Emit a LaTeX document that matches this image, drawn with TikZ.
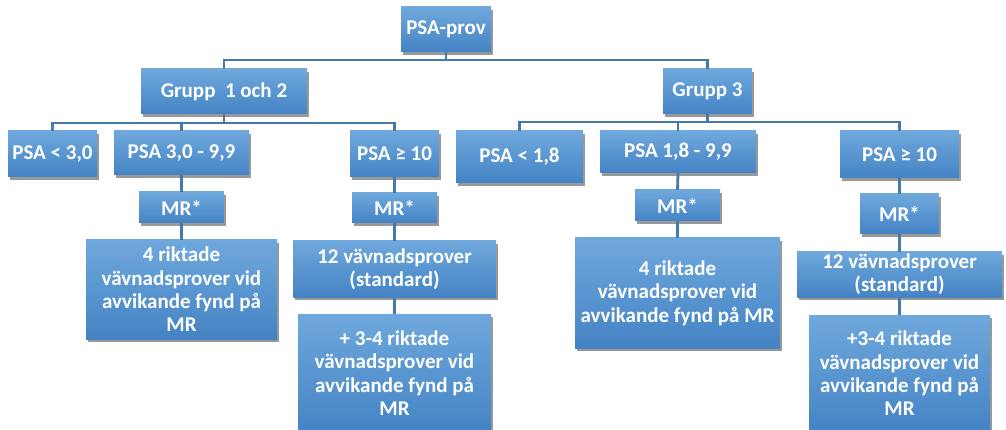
\documentclass[tikz,border=0pt]{standalone}
\usepackage{fontspec}
\setmainfont{Carlito}
\usetikzlibrary{shadows}
\definecolor{boxtop}{HTML}{6FA8DC}
\definecolor{boxbot}{HTML}{4483C4}
\definecolor{linec}{HTML}{4679AC}
\begin{document}
\begin{tikzpicture}[x=1pt,y=-1pt,
  box/.style={rectangle, top color=boxtop, bottom color=boxbot, draw=none,
    text=white, font=\fontsize{21}{23.3}\selectfont\bfseries, align=center,
    inner sep=0pt,
    drop shadow={shadow xshift=2pt, shadow yshift=-3pt, opacity=0.4, fill=black}},
  conn/.style={draw=linec, line width=2.8pt}]
\clip (0,0) rectangle (1006,430);
% level 0/1
\node[box, minimum width=90pt, minimum height=45pt] (prov) at (446,29.5) {PSA-prov};
\node[box, minimum width=166pt, minimum height=45pt] (g12) at (224,91.5) {Grupp\ \ 1 och 2};
\node[box, minimum width=89pt, minimum height=45pt] (g3) at (707.5,91.5) {Grupp 3};
% level 2
\node[box, minimum width=89pt, minimum height=46pt] (a1) at (52.5,154) {PSA < 3,0};
\node[box, minimum width=135pt, minimum height=44pt] (a2) at (181.5,153) {PSA 3,0 - 9,9};
\node[box, minimum width=89pt, minimum height=46pt] (a3) at (394.5,154) {PSA ≥ 10};
\node[box, minimum width=127pt, minimum height=52pt] (b1) at (519.5,157) {PSA < 1,8};
\node[box, minimum width=156pt, minimum height=42pt] (b2) at (678,152) {PSA 1,8 - 9,9};
\node[box, minimum width=119pt, minimum height=47pt] (b3) at (899.5,154.5) {PSA ≥ 10};
% MR
\node[box, minimum width=85pt, minimum height=31pt] (mra2) at (181.5,207.5) {MR*};
\node[box, minimum width=85pt, minimum height=30pt] (mra3) at (394.5,208) {MR*};
\node[box, minimum width=85pt, minimum height=31pt] (mrb2) at (677.5,205.5) {MR*};
\node[box, minimum width=79pt, minimum height=40pt] (mrb3) at (899.5,214) {MR*};
% lower
\node[box, minimum width=191pt, minimum height=99pt] (ra2) at (181.5,289.5) {4 riktade\\vävnadsprover vid\\avvikande fynd på\\MR};
\node[box, minimum width=203pt, minimum height=56pt] (sa3) at (394.5,269) {12 vävnadsprover\\(standard)};
\node[box, minimum width=193pt, minimum height=118pt] (ta3) at (394.5,373) {+ 3-4 riktade\\vävnadsprover vid\\avvikande fynd på\\MR};
\node[box, minimum width=205pt, minimum height=110pt] (rb2) at (677.5,293) {4 riktade\\vävnadsprover vid\\avvikande fynd på MR};
\node[box, minimum width=205pt, minimum height=45pt] (sb3) at (899.5,274.5) {12 vävnadsprover\\(standard)};
\node[box, minimum width=181pt, minimum height=117pt] (tb3) at (899.5,373.5) {+3-4 riktade\\vävnadsprover vid\\avvikande fynd på\\MR};
% buses
\coordinate (bus0) at (0,60);
\coordinate (bus1) at (0,123);
\coordinate (bus2) at (0,122);
\draw[conn] (prov.south) -- (prov.south |- bus0);
\draw[conn] (g12.north) |- (bus0 -| g3.north) -- (g3.north);
\draw[conn] (g12.south) -- (g12.south |- bus1);
\draw[conn] (a1.north) |- (bus1 -| a3.north) -- (a3.north);
\draw[conn] (a2.north) -- (a2.north |- bus1);
\draw[conn] (g3.south) -- (g3.south |- bus2);
\draw[conn] (b1.north) |- (bus2 -| b3.north) -- (b3.north);
\draw[conn] (b2.north) -- (b2.north |- bus2);
% verticals
\draw[conn] (a2.south) -- (mra2.north);
\draw[conn] (mra2.south) -- (ra2.north);
\draw[conn] (a3.south) -- (mra3.north);
\draw[conn] (mra3.south) -- (sa3.north);
\draw[conn] (sa3.south) -- (ta3.north);
\draw[conn] (b2.south) -- (mrb2.north);
\draw[conn] (mrb2.south) -- (rb2.north);
\draw[conn] (b3.south) -- (mrb3.north);
\draw[conn] (mrb3.south) -- (sb3.north);
\draw[conn] (sb3.south) -- (tb3.north);
\end{tikzpicture}
\end{document}
